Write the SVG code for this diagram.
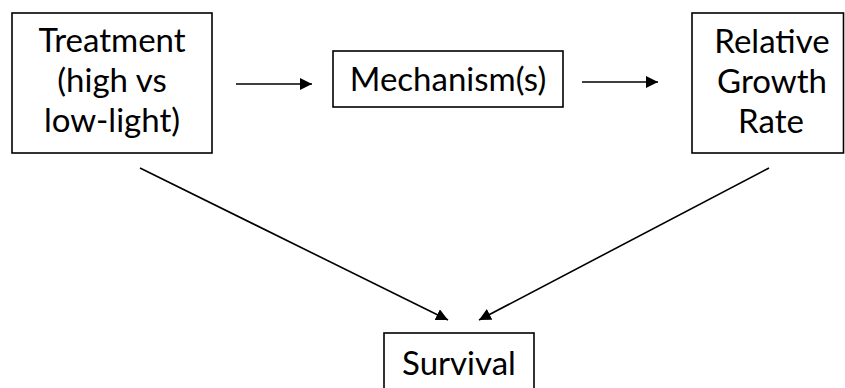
<svg xmlns="http://www.w3.org/2000/svg" width="845" height="388" viewBox="0 0 845 388">
  <style>
    .box { fill: #ffffff; stroke: #000000; stroke-width: 1.6; }
    .lbl { font-family: Lato, "Open Sans", "Liberation Sans", sans-serif; font-size: 33px; fill: #000000; text-anchor: middle; }
    .edge { fill: none; stroke: #000000; stroke-width: 1.6; marker-end: url(#head); }
  </style>
  <defs>
    <marker id="head" markerUnits="userSpaceOnUse" markerWidth="12" markerHeight="12" viewBox="0 0 12 12" refX="12" refY="6" orient="auto">
      <path d="M0,0 L12,6 L0,12 Z" fill="#000000"/>
    </marker>
  </defs>
  <rect width="845" height="388" fill="#ffffff"/>

  <g id="connectors">
    <line class="edge" x1="236" y1="84" x2="312" y2="84"/>
    <line class="edge" x1="582" y1="82" x2="658" y2="82"/>
    <line class="edge" x1="140" y1="168" x2="448" y2="320"/>
    <line class="edge" x1="769" y1="168" x2="479" y2="320"/>
  </g>

  <g id="treatment">
    <rect class="box" x="12" y="13" width="200" height="140"/>
    <text class="lbl" x="112" y="52">Treatment</text>
    <text class="lbl" x="112" y="92">(high vs</text>
    <text class="lbl" x="112" y="132">low-light)</text>
  </g>

  <g id="mechanism">
    <rect class="box" x="333" y="51" width="230" height="56"/>
    <text class="lbl" x="448" y="91">Mechanism(s)</text>
  </g>

  <g id="growth-rate">
    <rect class="box" x="692" y="13" width="151.5" height="140"/>
    <text class="lbl" x="772" y="53">Relative</text>
    <text class="lbl" x="772" y="93">Growth</text>
    <text class="lbl" x="771" y="133">Rate</text>
  </g>

  <g id="survival">
    <rect class="box" x="384" y="333" width="150" height="70"/>
    <text class="lbl" x="459" y="375">Survival</text>
  </g>
</svg>
